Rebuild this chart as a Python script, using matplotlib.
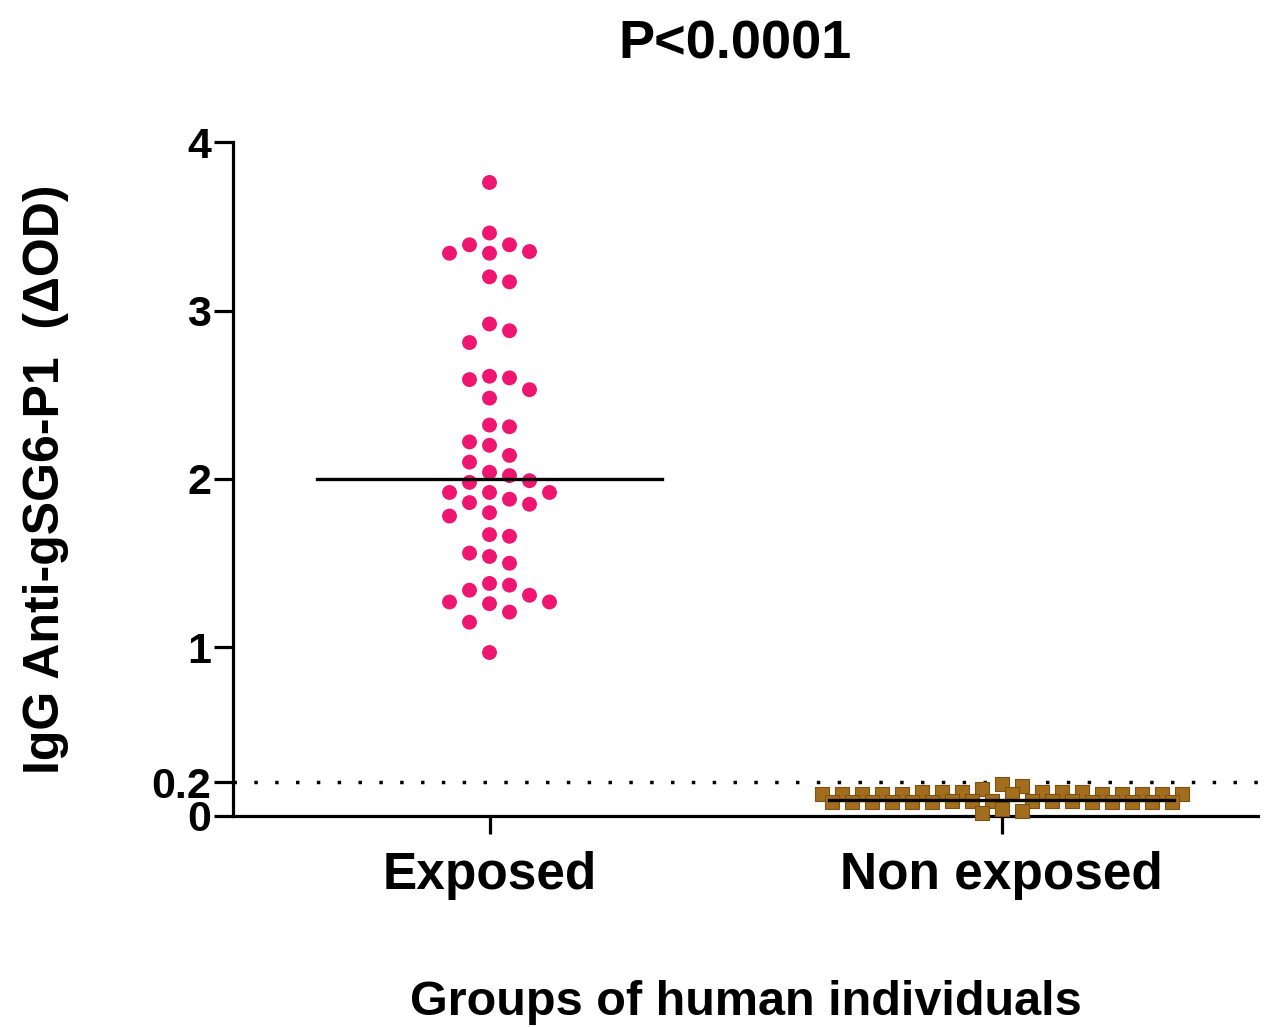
import numpy as np
import matplotlib.pyplot as plt

plt.rcParams['font.family'] = ['Liberation Sans', 'DejaVu Sans']
plt.rcParams['font.weight'] = 'bold'

# valeurs (delta OD)
groupes = ['Exposed', 'Non exposed']
exposes = [3.76, 3.46, 3.39, 3.34, 3.34, 3.35, 3.39, 3.17, 3.20, 2.88,
           2.92, 2.81, 2.60, 2.61, 2.59, 2.53, 2.48, 2.31, 2.32, 2.22,
           2.20, 2.14, 2.10, 2.04, 1.99, 2.02, 1.98, 1.92, 1.92, 1.92,
           1.86, 1.85, 1.88, 1.80, 1.78, 1.66, 1.67, 1.56, 1.54, 1.50,
           1.38, 1.37, 1.34, 1.27, 1.31, 1.26, 1.27, 1.21, 1.15, 0.97]
non_exposes = [0.19, 0.18, 0.16,
               0.14, 0.13, 0.13, 0.14, 0.13, 0.13, 0.14, 0.13, 0.13, 0.14,
               0.13, 0.13, 0.14, 0.13, 0.13, 0.14, 0.13,
               0.09, 0.08, 0.08, 0.09, 0.08, 0.08, 0.09, 0.08, 0.08, 0.09,
               0.08, 0.08, 0.09, 0.08, 0.08, 0.09, 0.08,
               0.04, 0.03, 0.02]
centres = [2.00, 0.095]   # traits horizontaux
seuil = 0.2
y_ticks = [0, 0.2, 1, 2, 3, 4]
y_labels = ['0', '0.2', '1', '2', '3', '4']


def essaim(valeurs, y_par_px, pas, larg, haut):
    """Essaim a colonnes, collision elliptique (en pixels)."""
    vals = np.asarray(valeurs, float)
    places = []
    dx = np.zeros(len(vals))
    for i in np.argsort(-vals, kind='stable'):
        yp = vals[i] / y_par_px
        k = 0
        trouve = None
        while trouve is None:
            for c in ([0] if k == 0 else [k, -k]):
                xp = c * pas
                if all((xp - a) ** 2 / larg ** 2 + (yp - b) ** 2 / haut ** 2 >= 1
                       for a, b in places):
                    trouve = xp
                    break
            k += 1
        places.append((trouve, yp))
        dx[i] = trouve
    return dx


fig = plt.figure(figsize=(12.69, 10.27), dpi=100)
ax = fig.add_axes([0.184, 0.2055, 0.807, 0.6562])
ax.set_xlim(0.5, 2.5)
ax.set_ylim(0, 4)

x_par_px = 2.0 / ax.bbox.width
y_par_px = 4.0 / ax.bbox.height

d1 = essaim(exposes, y_par_px, pas=20, larg=20, haut=20) * x_par_px
d2 = essaim(non_exposes, y_par_px, pas=10, larg=14, haut=11) * x_par_px

ax.scatter(1 + d1, exposes, s=115, marker='o', color='#EE1670',
           edgecolors='none', zorder=3, clip_on=False)
ax.scatter(2 + d2, non_exposes, s=95, marker='s', color='#A26E1E',
           edgecolors='#7A5214', linewidths=0.8, zorder=3, clip_on=False)

for i, c in enumerate(centres):
    ax.plot([i + 1 - 0.337, i + 1 + 0.337], [c, c], color='black', lw=2.4, zorder=4)

ax.axhline(seuil, color='black', lw=2.5, linestyle=(0, (1, 5)), zorder=2)

for s in ['top', 'right']:
    ax.spines[s].set_visible(False)
for s in ['left', 'bottom']:
    ax.spines[s].set_linewidth(2.3)

ax.set_yticks(y_ticks)
ax.set_yticklabels(y_labels)
ax.set_xticks([1, 2])
ax.set_xticklabels(groupes)
ax.tick_params(axis='y', length=14, width=2.3, pad=2, labelsize=31)
ax.tick_params(axis='x', length=13, width=2.3, pad=12, labelsize=37)

ax.set_ylabel('IgG Anti-gSG6-P1  (\u0394OD)', fontsize=36, fontweight='bold', labelpad=59)
ax.set_xlabel('Groups of human individuals', fontsize=35, fontweight='bold', labelpad=58)
ax.set_title('P<0.0001', fontsize=39, fontweight='bold', pad=60, x=0.49)

plt.savefig('out.png', dpi=100)
